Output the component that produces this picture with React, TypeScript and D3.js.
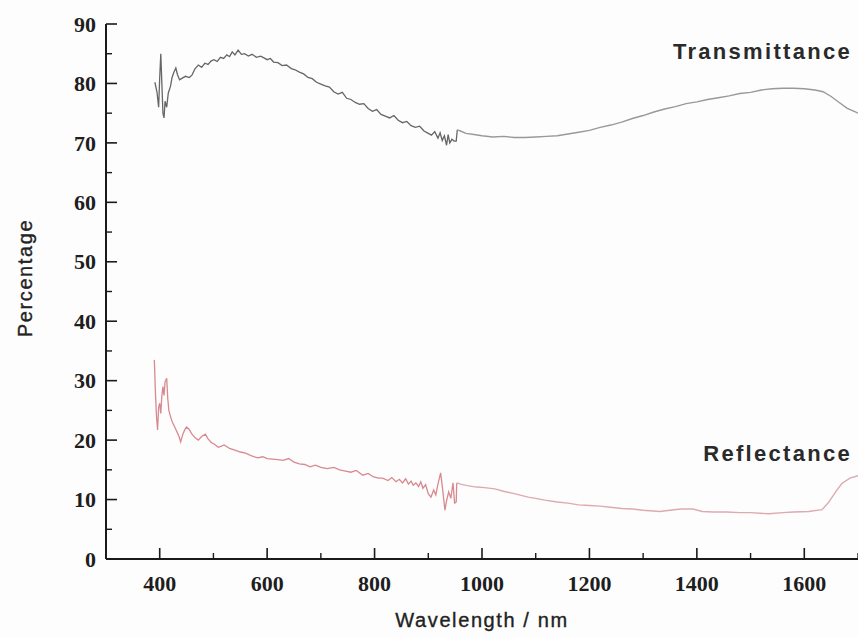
import React from "react";
import * as d3 from "d3";

const transmittance: [number, number][] = [
  [391, 80.2], [395, 78.5], [398, 76], [400, 81], [402, 85], [404, 80], [406, 75], [408, 74.2],
  [410, 77], [413, 76], [416, 78.4], [420, 79.5], [423, 81], [426, 81.8], [430, 82.6], [433, 81.5],
  [437, 80.6], [442, 80.9], [448, 81.2], [455, 81.0], [460, 81.4], [466, 82.5], [472, 83.1],
  [478, 82.7], [484, 83.4], [490, 83.2], [496, 83.8], [501, 84.0], [507, 83.7], [513, 84.4],
  [519, 84.2], [525, 84.8], [530, 84.5], [535, 85.3], [540, 84.8], [546, 85.6], [552, 84.9],
  [558, 85.0], [565, 84.6], [572, 84.9], [580, 84.4], [588, 84.6], [594, 84.3], [600, 84.0],
  [606, 84.2], [612, 83.6], [620, 83.5], [628, 83.0], [636, 83.1], [645, 82.5], [652, 82.3],
  [660, 81.9], [668, 81.6], [676, 81.0], [684, 80.8], [692, 80.2], [700, 79.9], [708, 79.6],
  [716, 79.4], [724, 78.6], [732, 78.2], [740, 78.5], [748, 77.5], [756, 77.3], [764, 76.8],
  [772, 76.5], [780, 76.6], [788, 75.8], [796, 75.3], [804, 75.6], [812, 74.8], [820, 74.5],
  [828, 74.2], [836, 74.6], [844, 73.8], [852, 73.4], [860, 73.6], [868, 72.9], [876, 72.6],
  [884, 72.8], [892, 72.0], [900, 71.6], [906, 71.3], [912, 71.9], [918, 70.8], [922, 71.7],
  [926, 70.4], [930, 71.2], [934, 69.6], [937, 71.4], [940, 70.0], [944, 70.6], [948, 70.3],
  [952, 70.3], [954, 72.2], [960, 72.0], [970, 71.6], [985, 71.4], [1000, 71.2], [1020, 71.0],
  [1040, 71.1], [1060, 70.9], [1080, 70.9], [1100, 71.0], [1120, 71.1], [1140, 71.2], [1160, 71.5],
  [1180, 71.8], [1200, 72.1], [1220, 72.6], [1240, 73.0], [1260, 73.5], [1280, 74.1], [1300, 74.6],
  [1320, 75.2], [1340, 75.7], [1360, 76.1], [1380, 76.6], [1400, 76.9], [1420, 77.3], [1440, 77.6],
  [1460, 77.9], [1480, 78.3], [1500, 78.5], [1520, 78.9], [1540, 79.1], [1560, 79.2], [1580, 79.2],
  [1600, 79.1], [1620, 78.9], [1635, 78.6], [1650, 77.8], [1665, 76.8], [1680, 75.8], [1695, 75.2],
  [1700, 75.0],
];

const reflectance: [number, number][] = [
  [390, 33.5], [392, 28], [394, 24], [396, 21.7], [398, 25.5], [400, 26.2], [402, 24.5], [404, 27.5],
  [406, 29], [408, 27.5], [410, 29.8], [413, 30.4], [415, 27], [417, 25], [420, 24], [424, 22.9],
  [428, 22.2], [432, 21.4], [436, 20.6], [439, 19.7], [443, 21.0], [447, 21.8], [450, 22.2],
  [455, 21.8], [460, 21.0], [466, 20.4], [472, 20.0], [478, 20.6], [485, 21.0], [490, 20.2],
  [496, 19.6], [502, 19.3], [509, 18.8], [515, 19.0], [520, 19.2], [530, 18.6], [540, 18.3],
  [550, 18.0], [560, 17.8], [570, 17.4], [582, 17.0], [592, 17.2], [600, 16.9], [610, 16.8],
  [620, 16.7], [630, 16.6], [640, 16.9], [650, 16.3], [660, 16.0], [670, 15.9], [680, 15.5],
  [690, 15.8], [700, 15.4], [712, 15.2], [724, 15.4], [735, 15.0], [746, 14.8], [756, 14.6],
  [766, 14.9], [778, 14.1], [788, 14.4], [798, 13.8], [808, 13.6], [815, 13.6], [825, 13.2],
  [832, 13.7], [840, 13.0], [846, 13.4], [852, 12.8], [858, 13.5], [863, 12.6], [868, 13.1],
  [872, 12.4], [877, 12.8], [882, 12.2], [886, 13.0], [890, 11.9], [895, 12.5], [900, 11.0],
  [905, 10.4], [910, 11.6], [914, 10.8], [918, 12.6], [923, 14.5], [927, 11.5], [931, 8.2],
  [934, 9.8], [938, 11.3], [942, 10.2], [946, 12.8], [949, 9.4], [952, 9.6], [953, 12.8],
  [960, 12.6], [975, 12.3], [990, 12.1], [1005, 12.0], [1024, 11.8], [1040, 11.4], [1060, 11.0],
  [1086, 10.4], [1100, 10.2], [1117, 9.9], [1140, 9.6], [1160, 9.4], [1180, 9.1], [1200, 9.0],
  [1220, 8.9], [1239, 8.7], [1260, 8.5], [1280, 8.4], [1300, 8.2], [1331, 8.0], [1350, 8.2],
  [1370, 8.4], [1393, 8.4], [1410, 8.0], [1430, 7.9], [1454, 7.9], [1480, 7.8], [1500, 7.8],
  [1534, 7.6], [1560, 7.8], [1580, 7.9], [1608, 8.0], [1633, 8.3], [1645, 9.5], [1660, 11.5],
  [1670, 12.7], [1685, 13.6], [1700, 14.0],
];

// detector change-over wavelength (noisy visible range vs. smooth NIR range)
const detectorSplit = 954;

const xMajorTicks = [400, 600, 800, 1000, 1200, 1400, 1600];
const xMinorTicks = [500, 700, 900, 1100, 1300, 1500, 1700];
const yMajorTicks = [0, 10, 20, 30, 40, 50, 60, 70, 80, 90];
const yMinorTicks = [5, 15, 25, 35, 45, 55, 65, 75, 85];

const W = 858;
const H = 637;

export default function App() {
  const x = d3.scaleLinear().domain([300, 1700]).range([106, 858]);
  const y = d3.scaleLinear().domain([0, 90]).range([559, 24]);
  const line = d3
    .line<[number, number]>()
    .x((d) => x(d[0]))
    .y((d) => y(d[1]));

  const tVis = transmittance.filter((d) => d[0] <= detectorSplit);
  const tNir = transmittance.filter((d) => d[0] >= detectorSplit);
  const rVis = reflectance.filter((d) => d[0] <= detectorSplit);
  const rNir = reflectance.filter((d) => d[0] >= detectorSplit - 1);

  const axisColor = "#1a1a1a";
  const tickFont = "'Liberation Serif', 'Times New Roman', serif";
  const sans = "'Liberation Sans', Arial, sans-serif";

  return (
    <div style={{ position: "absolute", left: 0, top: 0 }}>
      <svg width={W} height={H} style={{ display: "block", background: "#fdfdfd" }}>
        <path d={line(tVis) || ""} fill="none" stroke="#666666" strokeWidth={1.3} />
        <path d={line(tNir) || ""} fill="none" stroke="#999999" strokeWidth={1.4} />
        <path d={line(rVis) || ""} fill="none" stroke="#d8898f" strokeWidth={1.3} />
        <path d={line(rNir) || ""} fill="none" stroke="#dcaab0" strokeWidth={1.4} />

        {/* axes */}
        <line x1={x(300)} x2={x(300)} y1={y(90)} y2={y(0)} stroke={axisColor} strokeWidth={2} />
        <line x1={x(300)} x2={W} y1={y(0)} y2={y(0)} stroke={axisColor} strokeWidth={2} />

        {yMajorTicks.map((t) => (
          <g key={"ym" + t}>
            <line x1={x(300)} x2={x(300) + 11} y1={y(t)} y2={y(t)} stroke={axisColor} strokeWidth={1.6} />
            <text
              x={96}
              y={y(t)}
              dy="0.35em"
              textAnchor="end"
              fontFamily={tickFont}
              fontWeight="bold"
              fontSize={22}
              fill="#1e1e1e"
            >
              {t}
            </text>
          </g>
        ))}
        {yMinorTicks.map((t) => (
          <line key={"yn" + t} x1={x(300)} x2={x(300) + 6} y1={y(t)} y2={y(t)} stroke={axisColor} strokeWidth={1.4} />
        ))}
        {xMajorTicks.map((t) => (
          <g key={"xm" + t}>
            <line x1={x(t)} x2={x(t)} y1={y(0)} y2={y(0) - 11} stroke={axisColor} strokeWidth={1.6} />
            <text
              x={x(t)}
              y={591}
              textAnchor="middle"
              fontFamily={tickFont}
              fontWeight="bold"
              fontSize={22}
              fill="#1e1e1e"
            >
              {t}
            </text>
          </g>
        ))}
        {xMinorTicks.map((t) => (
          <line key={"xn" + t} x1={x(t)} x2={x(t)} y1={y(0)} y2={y(0) - 6} stroke={axisColor} strokeWidth={1.4} />
        ))}

        {/* axis titles */}
        <text
          x={482}
          y={627}
          textAnchor="middle"
          fontFamily={sans}
          fontSize={20}
          letterSpacing={1.6}
          stroke="#222"
          strokeWidth={0.35}
          fill="#222"
        >
          Wavelength / nm
        </text>
        <text
          transform={`translate(32, 278) rotate(-90)`}
          textAnchor="middle"
          fontFamily={sans}
          fontSize={20}
          letterSpacing={1.6}
          stroke="#222"
          strokeWidth={0.35}
          fill="#222"
        >
          Percentage
        </text>

        {/* series labels */}
        <text
          x={852}
          y={59}
          textAnchor="end"
          fontFamily={sans}
          fontWeight="bold"
          fontSize={22}
          letterSpacing={2.3}
          fill="#2a2a2a"
        >
          Transmittance
        </text>
        <text
          x={852}
          y={461}
          textAnchor="end"
          fontFamily={sans}
          fontWeight="bold"
          fontSize={22}
          letterSpacing={2.3}
          fill="#2a2a2a"
        >
          Reflectance
        </text>
      </svg>
    </div>
  );
}
